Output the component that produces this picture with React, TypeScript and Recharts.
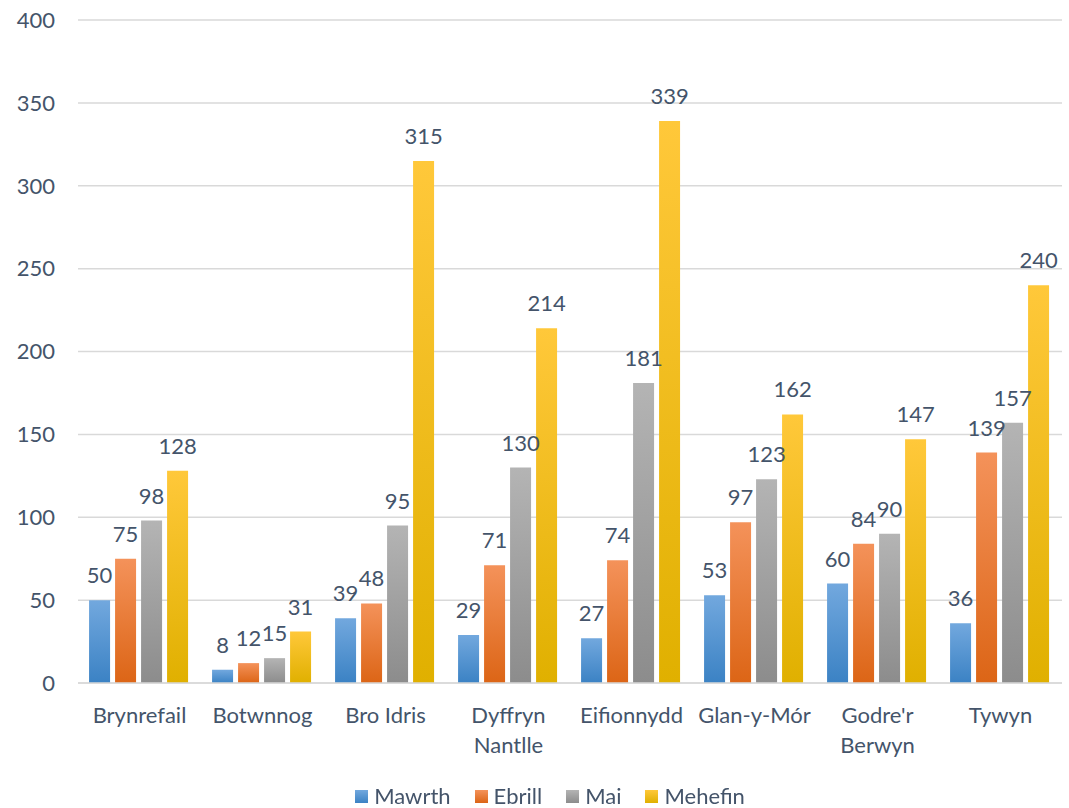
import { BarChart, Bar, XAxis, YAxis, CartesianGrid, LabelList } from "recharts";

const wards = [
  "Brynrefail",
  "Botwnnog",
  "Bro Idris",
  "Dyffryn Nantlle",
  "Eifionnydd",
  "Glan-y-Mór",
  "Godre'r Berwyn",
  "Tywyn",
];
// names that break onto a second line under the axis
const wrapped: Record<string, string[]> = {
  "Dyffryn Nantlle": ["Dyffryn", "Nantlle"],
  "Godre'r Berwyn": ["Godre'r", "Berwyn"],
};
const mawrth = [50, 8, 39, 29, 27, 53, 60, 36];
const ebrill = [75, 12, 48, 71, 74, 97, 84, 139];
const mai = [98, 15, 95, 130, 181, 123, 90, 157];
const mehefin = [128, 31, 315, 214, 339, 162, 147, 240];
const yTicks = [0, 50, 100, 150, 200, 250, 300, 350, 400];

const series = [
  { key: "Mawrth", top: "#72a8de", bottom: "#3b82c4" },
  { key: "Ebrill", top: "#f4925a", bottom: "#dc6516" },
  { key: "Mai", top: "#b4b4b4", bottom: "#8c8c8c" },
  { key: "Mehefin", top: "#ffc83a", bottom: "#e0b000" },
];

const data = wards.map((name, i) => ({
  name,
  Mawrth: mawrth[i],
  Ebrill: ebrill[i],
  Mai: mai[i],
  Mehefin: mehefin[i],
}));

const TEXT = "#44546a";
const FONT = "Lato, 'Open Sans', sans-serif";
const FS = 22;

const WardTick = (props: any) => {
  const { x, y, payload } = props;
  const lines = wrapped[payload.value] ?? [payload.value];
  return (
    <text x={x} y={y} textAnchor="middle" fill={TEXT} fontSize={FS} fontFamily={FONT}>
      {lines.map((w: string, i: number) => (
        <tspan key={i} x={x} dy={i === 0 ? 32 : 30}>
          {w}
        </tspan>
      ))}
    </text>
  );
};

const LegendRow = () => (
  <div
    style={{
      position: "absolute",
      left: 0,
      top: 783,
      width: 1100,
      display: "flex",
      justifyContent: "center",
      gap: 24,
      fontFamily: FONT,
      fontSize: FS,
      color: TEXT,
      lineHeight: "26px",
    }}
  >
    {series.map((s) => (
      <div key={s.key} style={{ display: "flex", alignItems: "center" }}>
        <span
          style={{
            display: "inline-block",
            width: 13,
            height: 13,
            background: `linear-gradient(${s.top}, ${s.bottom})`,
            marginRight: 6,
          }}
        />
        {s.key}
      </div>
    ))}
  </div>
);

export default function App() {
  return (
    <div style={{ position: "fixed", left: 0, top: 0, width: 1069, height: 808, background: "#fff" }}>
      <BarChart
        width={1069}
        height={808}
        data={data}
        margin={{ top: 20, right: 7, left: 0, bottom: 0 }}
        barCategoryGap="9%"
        barGap={5}
      >
        <defs>
          {series.map((s) => (
            <linearGradient key={s.key} id={`g-${s.key}`} x1="0" y1="0" x2="0" y2="1">
              <stop offset="0%" stopColor={s.top} />
              <stop offset="100%" stopColor={s.bottom} />
            </linearGradient>
          ))}
        </defs>
        <CartesianGrid vertical={false} stroke="#d9d9d9" strokeWidth={1.5} />
        <XAxis
          dataKey="name"
          tick={<WardTick />}
          tickLine={false}
          axisLine={{ stroke: "#d9d9d9", strokeWidth: 1.5 }}
          interval={0}
          height={125}
        />
        <YAxis
          domain={[0, 400]}
          ticks={yTicks}
          width={78}
          axisLine={false}
          tickLine={false}
          tickMargin={17}
          tick={{ fill: TEXT, fontSize: FS, fontFamily: FONT }}
        />
        {series.map((s) => (
          <Bar key={s.key} dataKey={s.key} fill={`url(#g-${s.key})`} isAnimationActive={false}>
            <LabelList
              dataKey={s.key}
              position="top"
              offset={17}
              fill={TEXT}
              fontSize={FS}
              fontFamily={FONT}
            />
          </Bar>
        ))}
      </BarChart>
      <LegendRow />
    </div>
  );
}
